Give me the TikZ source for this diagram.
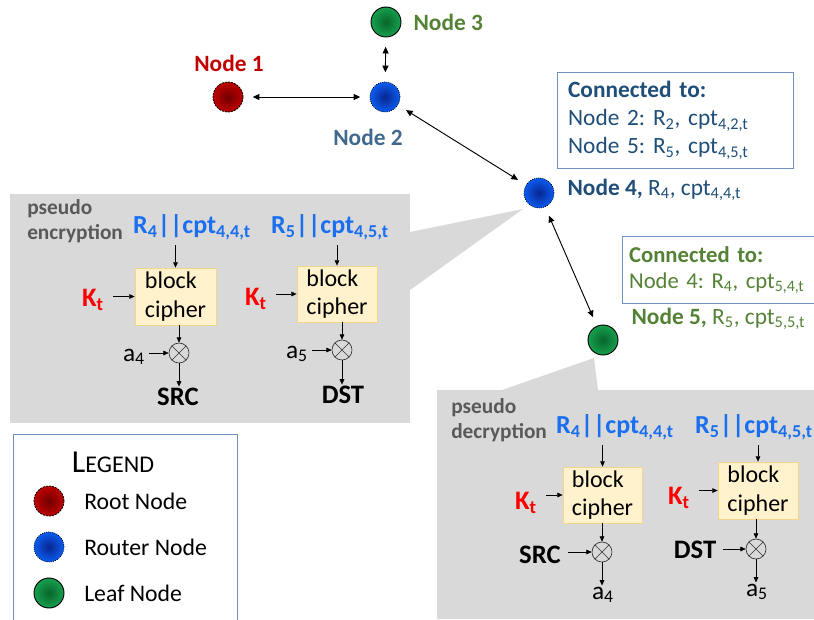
\documentclass[tikz,border=0pt]{standalone}
\usepackage{fontspec}
\setmainfont{Carlito}
\usepackage{xcolor}
\usepackage{tikz}
\usetikzlibrary{arrows.meta}
\usetikzlibrary{positioning}
\frenchspacing

\definecolor{rootred}{HTML}{C00000}
\definecolor{rootdark}{HTML}{700000}
\definecolor{routerblue}{HTML}{0A5CF0}
\definecolor{routerdark}{HTML}{0A2590}
\definecolor{leafgreen}{HTML}{16A04E}
\definecolor{leafdark}{HTML}{08652C}
\definecolor{labelblue}{HTML}{1F4E79}
\definecolor{labelgreen}{HTML}{548235}
\definecolor{boxedge}{HTML}{6F93C0}
\definecolor{inputblue}{HTML}{1A6FF0}
\definecolor{keyred}{HTML}{FF0000}
\definecolor{panelgrey}{HTML}{D9D9D9}
\definecolor{pseudogrey}{HTML}{595959}
\definecolor{cipherfill}{HTML}{FFF2CC}
\definecolor{cipheredge}{HTML}{F5D58A}

\tikzset{
    netnode/.style={circle, minimum size=22.5pt, inner sep=0pt, shading=radial},
    rootnode/.style={netnode, inner color=rootdark, outer color=rootred, draw=black, dash pattern=on 1.5pt off 0.8pt, line width=0.6pt},
    routernode/.style={netnode, inner color=routerdark, outer color=routerblue, draw=black, densely dotted, line width=0.6pt},
    leafnode/.style={netnode, inner color=leafdark, outer color=leafgreen, draw=black, line width=0.7pt},
    bigtxt/.style={font=\fontsize{17.5}{21}\selectfont, inner sep=1pt},
    linkarrow/.style={{Triangle[length=5pt,width=4.5pt]}-{Triangle[length=5pt,width=4.5pt]}, line width=0.7pt, shorten <=7pt, shorten >=7pt},
    flow/.style={-{Triangle[length=4pt,width=3.5pt]}, line width=0.5pt},
    cipher/.style={rectangle, fill=cipherfill, draw=cipheredge, line width=0.6pt, align=left, font=\fontsize{18}{21.5}\selectfont, inner sep=2pt},
    xor/.style={circle, draw=black!80, line width=0.5pt, minimum size=15pt, inner sep=0pt,
        path picture={\draw[line width=0.5pt, black!80] (path picture bounding box.north west) -- (path picture bounding box.south east)
            (path picture bounding box.south west) -- (path picture bounding box.north east);}},
    inputtxt/.style={font=\fontsize{19.5}{20}\selectfont\bfseries, text=inputblue, inner sep=1pt},
    keytxt/.style={font=\fontsize{20}{20}\selectfont\bfseries, text=keyred, inner sep=1pt},
    endtxt/.style={font=\fontsize{20}{20}\selectfont\bfseries, inner sep=1pt},
    weighttxt/.style={font=\fontsize{19}{20}\selectfont, inner sep=1pt},
    pseudotxt/.style={font=\fontsize{16}{18.75}\selectfont\bfseries, text=pseudogrey, align=left, anchor=west, inner sep=0pt},
    legendtxt/.style={font=\fontsize{17.8}{18}\selectfont, anchor=west, inner sep=0pt}
}

\begin{document}
\begin{tikzpicture}[x=0.75pt, y=-0.75pt]
    \useasboundingbox (0,0) rectangle (814,619);

    % Pannelli grigi con le punte
    \fill[panelgrey] (10,194) rectangle (410,423);
    \fill[panelgrey] (410,232) -- (523,209) -- (410,290) -- cycle;
    \fill[panelgrey] (437,390) rectangle (814,619);
    \fill[panelgrey] (502,390) -- (594,358) -- (598,390) -- cycle;

    % Nodi della rete
    \node[rootnode] (n1) at (228,97) {};
    \node[routernode] (n2) at (385,97) {};
    \node[leafnode] (n3) at (386,22) {};
    \node[routernode] (n4) at (539,193) {};
    \node[leafnode] (n5) at (603,340) {};

    \draw[linkarrow] (n1) -- (n2);
    \draw[linkarrow] (n2) -- (n3);
    \draw[linkarrow] (n2) -- (n4);
    \draw[linkarrow] (n4) -- (n5);

    % Etichette dei nodi
    \node[bigtxt, font=\fontsize{17.5}{18}\selectfont\bfseries, text=rootred] (t1) at (229,63) {Node 1};
    \node[bigtxt, font=\fontsize{17.5}{18}\selectfont\bfseries, text=labelblue!85] (t2) at (368,137) {Node 2};
    \node[bigtxt, font=\fontsize{17.5}{18}\selectfont\bfseries, text=labelgreen, anchor=west] (t3) at (412,22) {Node 3};
    \node[bigtxt, text=labelblue, anchor=west] (t4) at (566,190) {\textbf{Node 4,} R\textsubscript{4}, cpt\textsubscript{4,4,t}};
    \node[bigtxt, text=labelgreen, anchor=west] (t5) at (630,319) {\textbf{Node 5,} R\textsubscript{5}, cpt\textsubscript{5,5,t}};

    % Riquadri dei collegamenti
    \node[bigtxt, draw=boxedge, line width=0.7pt, text=labelblue, anchor=north west, align=left,
        text width=161pt, inner xsep=8pt, minimum height=72pt] (c4) at (557,72)
        {\textbf{Connected to:}\\Node 2: R\textsubscript{2}, cpt\textsubscript{4,2,t}\\Node 5: R\textsubscript{5}, cpt\textsubscript{4,5,t}};
    \node[bigtxt, font=\fontsize{17}{19.5}\selectfont, draw=boxedge, line width=0.7pt, text=labelgreen, anchor=north west, align=left,
        text width=134pt, inner xsep=5pt, minimum height=50pt] (c5) at (622,236)
        {\textbf{Connected to:}\\Node 4: R\textsubscript{4}, cpt\textsubscript{5,4,t}};

    % Pseudo cifratura
    \node[pseudotxt] (pe) at (27,221) {pseudo\\encryption};
    \node[inputtxt] (in1) at (192,227) {R\textsubscript{4}||cpt\textsubscript{4,4,t}};
    \node[inputtxt] (in2) at (330,227) {R\textsubscript{5}||cpt\textsubscript{4,5,t}};
    \node[cipher, minimum width=60.75pt, minimum height=42.75pt] (bc1) at (175.5,296.5) {block\\cipher};
    \node[cipher, minimum width=60pt, minimum height=42pt] (bc2) at (337,294) {block\\cipher};
    \node[keytxt] (k1) at (93,300) {K\textsubscript{t}};
    \node[keytxt] (k2) at (256,299) {K\textsubscript{t}};
    \node[xor] (x1) at (179,353) {};
    \node[xor] (x2) at (342,350) {};
    \node[weighttxt] (w1) at (134,357) {a\textsubscript{4}};
    \node[weighttxt] (w2) at (297,354) {a\textsubscript{5}};
    \node[endtxt] (o1) at (178,397) {SRC};
    \node[endtxt] (o2) at (343,395) {DST};

    \draw[flow] ([yshift=-3pt]in1.south -| bc1.north) -- (bc1.north);
    \draw[flow] ([yshift=-3pt]in2.south -| bc2.north) -- (bc2.north);
    \draw[flow] ([xshift=6pt]k1.east |- bc1.west) -- (bc1.west);
    \draw[flow] ([xshift=6pt]k2.east |- bc2.west) -- (bc2.west);
    \draw[flow] (bc1.south -| x1.north) -- (x1.north);
    \draw[flow] (bc2.south -| x2.north) -- (x2.north);
    \draw[flow] ([xshift=2pt]w1.east |- x1.west) -- (x1.west);
    \draw[flow] ([xshift=2pt]w2.east |- x2.west) -- (x2.west);
    \draw[flow] (x1.south) -- (o1.north -| x1.south);
    \draw[flow] (x2.south) -- (o2.north -| x2.south);

    % Pseudo decifratura
    \node[pseudotxt] (pd) at (451,420) {pseudo\\decryption};
    \node[inputtxt] (in3) at (615,427) {R\textsubscript{4}||cpt\textsubscript{4,4,t}};
    \node[inputtxt] (in4) at (754,427) {R\textsubscript{5}||cpt\textsubscript{4,5,t}};
    \node[cipher, minimum width=59.25pt, minimum height=42pt] (bc3) at (602.5,495) {block\\cipher};
    \node[cipher, minimum width=60pt, minimum height=42.75pt] (bc4) at (758,490.5) {block\\cipher};
    \node[keytxt] (k3) at (526,503) {K\textsubscript{t}};
    \node[keytxt] (k4) at (679,498) {K\textsubscript{t}};
    \node[xor] (x3) at (602,552) {};
    \node[xor] (x4) at (756,549) {};
    \node[endtxt] (s3) at (540,555) {SRC};
    \node[endtxt] (s4) at (695,550) {DST};
    \node[weighttxt] (o3) at (603,595) {a\textsubscript{4}};
    \node[weighttxt] (o4) at (757,592) {a\textsubscript{5}};

    \draw[flow] ([yshift=-3pt]in3.south -| bc3.north) -- (bc3.north);
    \draw[flow] ([yshift=-3pt]in4.south -| bc4.north) -- (bc4.north);
    \draw[flow] ([xshift=6pt]k3.east |- bc3.west) -- (bc3.west);
    \draw[flow] ([xshift=6pt]k4.east |- bc4.west) -- (bc4.west);
    \draw[flow] (bc3.south -| x3.north) -- (x3.north);
    \draw[flow] (bc4.south -| x4.north) -- (x4.north);
    \draw[flow] ([xshift=4pt]s3.east |- x3.west) -- (x3.west);
    \draw[flow] ([xshift=4pt]s4.east |- x4.west) -- (x4.west);
    \draw[flow] (x3.south) -- (o3.north -| x3.south);
    \draw[flow] (x4.south) -- (o4.north -| x4.south);

    % Legenda
    \node[draw=boxedge, line width=0.7pt, anchor=north west, minimum width=168pt, minimum height=150pt] (legend) at (13,434) {};
    \node (lt) at (113,462) {{\fontsize{24}{24}\selectfont L}{\fontsize{18}{18}\selectfont EGEND}};
    \node[rootnode] (l1) at (49,501) {};
    \node[routernode] (l2) at (49,547) {};
    \node[leafnode] (l3) at (49,593) {};
    \node[legendtxt] (lr) at (84,501) {Root Node};
    \node[legendtxt] (lo) at (84,547) {Router Node};
    \node[legendtxt] (lf) at (84,593) {Leaf Node};
\end{tikzpicture}
\end{document}
